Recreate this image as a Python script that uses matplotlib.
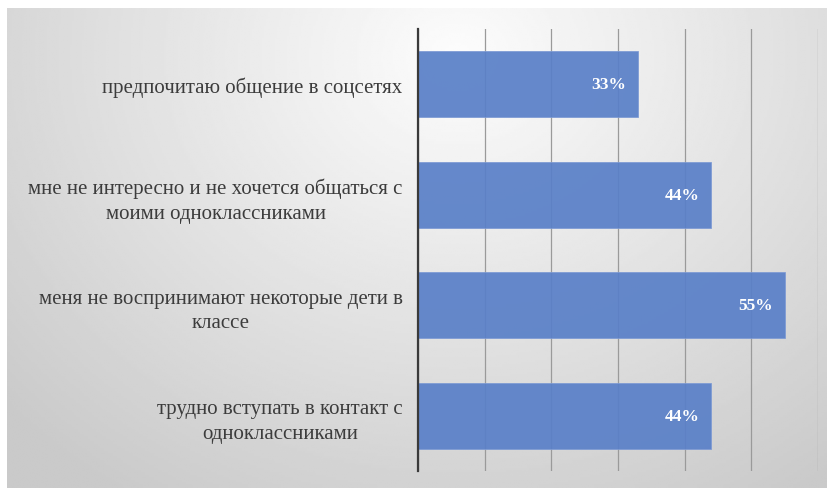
import numpy as np
import matplotlib
matplotlib.use("Agg")
import matplotlib.pyplot as plt

categories = [
    "предпочитаю общение в соцсетях",
    "мне не интересно и не хочется общаться с\nмоими одноклассниками",
    "меня не воспринимают некоторые дети в\nклассе",
    "трудно вступать в контакт с\nодноклассниками",
]
values = [33, 44, 55, 44]
value_labels = ["33%", "44%", "55%", "44%"]
x_ticks = [0, 10, 20, 30, 40, 50, 60]

plt.rcParams['font.family'] = ['Liberation Serif', 'DejaVu Serif']

fig = plt.figure(figsize=(8.27, 4.89), dpi=100)
fig.patch.set_facecolor('white')

# gray radial gradient background, lighter near top middle
bg = fig.add_axes([7 / 827, 0, 1 - 7 / 827, 1 - 9 / 489])
yy, xx = np.mgrid[0:1:200j, 0:1:400j]
r = np.sqrt(((xx - 0.55) / 0.75) ** 2 + ((yy - 0.1) / 1.1) ** 2)
shade = np.clip(0.99 - 0.2 * r, 0.79, 0.99)
bg.imshow(shade, cmap='gray', vmin=0, vmax=1, aspect='auto',
          extent=[0, 1, 0, 1], origin='upper')
bg.axis('off')

ax = fig.add_axes([418 / 827, 1 - 472 / 489, 400 / 827, 442 / 489])
ax.set_facecolor('none')
y = np.arange(len(categories))
ax.set_xlim(0, 60)
ax.set_ylim(len(categories) - 0.5, -0.5)
ax.set_xticks(x_ticks)
ax.grid(axis='x', color='#9a9a9a', linewidth=0.9, zorder=0)
ax.set_axisbelow(True)

bars = ax.barh(y, values, height=0.6, color='#5a80c8', alpha=0.93,
               edgecolor='#7d9ad4', linewidth=0.6, zorder=2)
for i, v in enumerate(values):
    ax.text(v - 1.8, y[i], value_labels[i], ha='right', va='center',
            color='white', fontsize=12.5, fontweight='bold', zorder=3)

ax.set_yticks(y)
ax.set_yticklabels(categories, fontsize=15, color='#3c3c3c',
                   multialignment='center', linespacing=1.4)
ax.tick_params(axis='y', length=0, pad=11)
ax.tick_params(axis='x', length=0, labelbottom=False)
for s in ['top', 'right', 'bottom']:
    ax.spines[s].set_visible(False)
ax.spines['left'].set_color('#3a3a3a')
ax.spines['left'].set_linewidth(1.6)

fig.savefig('out.png', dpi=100)
